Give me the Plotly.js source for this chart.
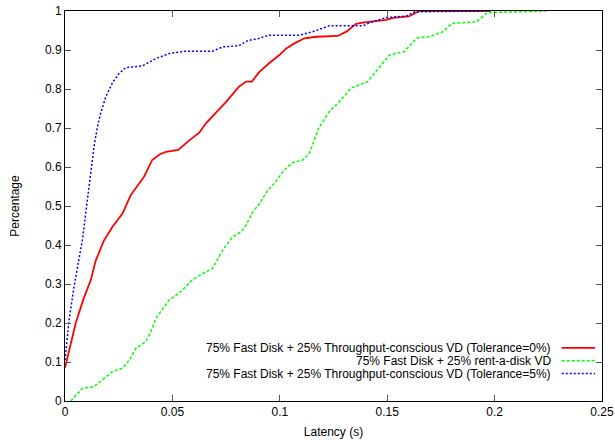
<!DOCTYPE html>
<html>
<head>
<meta charset="utf-8">
<script src="https://cdn.plot.ly/plotly-3.0.1.min.js"></script>
<style>html,body{margin:0;padding:0;background:#fff;}#chart{width:615px;height:440px;}</style>
</head>
<body>
<div id="chart"></div>
<script>
// Latency (s) and cumulative percentage for each configuration
const seriesNames = [
  "75% Fast Disk + 25% Throughput-conscious VD (Tolerance=0%)",
  "75% Fast Disk + 25% rent-a-disk VD",
  "75% Fast Disk + 25% Throughput-conscious VD (Tolerance=5%)"
];

const redX = [0, 0.0025, 0.005, 0.0085, 0.012, 0.0143, 0.018, 0.022, 0.0267, 0.0306, 0.0345, 0.0368, 0.0406, 0.044, 0.047, 0.0527, 0.058, 0.0625, 0.0656, 0.070, 0.075, 0.081, 0.0843, 0.087, 0.0905, 0.095, 0.0998, 0.103, 0.1068, 0.1115, 0.117, 0.127, 0.131, 0.1355, 0.1386, 0.1495, 0.1526, 0.160, 0.165, 0.198];
const redY = [0.085, 0.14, 0.2, 0.26, 0.31, 0.36, 0.41, 0.446, 0.48, 0.528, 0.558, 0.575, 0.618, 0.632, 0.639, 0.644, 0.669, 0.688, 0.712, 0.7375, 0.767, 0.806, 0.819, 0.819, 0.844, 0.866, 0.887, 0.904, 0.917, 0.930, 0.934, 0.936, 0.947, 0.967, 0.970, 0.977, 0.9825, 0.986, 1.0, 1.0];

const greenX = [0.0027, 0.0081, 0.0135, 0.0174, 0.022, 0.0267, 0.030, 0.033, 0.0376, 0.040, 0.0423, 0.0485, 0.053, 0.0563, 0.0594, 0.0687, 0.0734, 0.078, 0.082, 0.0843, 0.0874, 0.0905, 0.0944, 0.0975, 0.102, 0.106, 0.1107, 0.1138, 0.118, 0.123, 0.1286, 0.133, 0.141, 0.144, 0.1496, 0.151, 0.158, 0.1636, 0.170, 0.176, 0.180, 0.1915, 0.196, 0.1978, 0.224];
const greenY = [0, 0.0325, 0.037, 0.054, 0.075, 0.084, 0.105, 0.135, 0.152, 0.178, 0.212, 0.259, 0.276, 0.293, 0.312, 0.340, 0.387, 0.421, 0.434, 0.451, 0.485, 0.505, 0.541, 0.558, 0.592, 0.611, 0.618, 0.635, 0.699, 0.742, 0.772, 0.802, 0.819, 0.840, 0.878, 0.887, 0.896, 0.930, 0.935, 0.947, 0.968, 0.972, 0.993, 0.996, 1.0];

const blueX = [0, 0.0019, 0.0042, 0.0081, 0.0104, 0.012, 0.0135, 0.0151, 0.0166, 0.019, 0.022, 0.0252, 0.0283, 0.036, 0.040, 0.0423, 0.0485, 0.0563, 0.0687, 0.0734, 0.081, 0.085, 0.0905, 0.095, 0.109, 0.1153, 0.123, 0.1387, 0.1418, 0.1496, 0.159, 0.1628, 0.198];
const blueY = [0.105, 0.208, 0.293, 0.413, 0.515, 0.584, 0.652, 0.703, 0.738, 0.780, 0.815, 0.84, 0.855, 0.859, 0.870, 0.878, 0.891, 0.897, 0.897, 0.908, 0.911, 0.924, 0.930, 0.938, 0.938, 0.947, 0.962, 0.962, 0.970, 0.983, 0.987, 0.998, 1.0];

const xTicks = [0, 0.05, 0.1, 0.15, 0.2, 0.25];
const yTicks = [0, 0.1, 0.2, 0.3, 0.4, 0.5, 0.6, 0.7, 0.8, 0.9, 1];

const colors = ["#ff0000", "#00ff00", "#0000ff"];
const dashes = ["solid", "3px,2px", "2px,2px"];
const widths = [1.8, 1.5, 1.5];
const xs = [redX, greenX, blueX];
const ys = [redY, greenY, blueY];

const FONT = "Liberation Sans, Arial, Helvetica, sans-serif";

const traces = xs.map((x, i) => ({
  x: x, y: ys[i], type: "scatter", mode: "lines", name: seriesNames[i],
  line: {color: colors[i], dash: dashes[i], width: widths[i]},
  showlegend: false, cliponaxis: true
}));

// Legend in gnuplot style: text right-aligned, sample line on its right
const annotations = [];
const shapes = [];
const legTop = 0.136;
const rowStep = 0.0328;
seriesNames.forEach((n, i) => {
  const py = legTop - i * rowStep;
  annotations.push({
    xref: "paper", yref: "paper", x: 0.909, y: py, xanchor: "right", yanchor: "middle",
    text: n, showarrow: false, font: {family: FONT, size: 12, color: "#000"}
  });
  shapes.push({
    type: "line", xref: "paper", yref: "paper", x0: 0.925, x1: 0.987, y0: py, y1: py,
    line: {color: colors[i], dash: dashes[i], width: widths[i]}
  });
});

const axisCommon = {
  showgrid: false, zeroline: false, showline: true, mirror: "ticks",
  linecolor: "#000", linewidth: 1, ticks: "inside", ticklen: 6, tickwidth: 1,
  tickcolor: "#555", tickfont: {family: FONT, size: 12, color: "#000"}
};

const layout = {
  width: 615, height: 440,
  margin: {l: 65, r: 13, t: 11, b: 39},
  paper_bgcolor: "#fff", plot_bgcolor: "#fff",
  font: {family: FONT, size: 12, color: "#000"},
  xaxis: Object.assign({}, axisCommon, {
    range: [0, 0.25], tickvals: xTicks, ticktext: xTicks.map(String),
    title: {text: "Latency (s)", font: {family: FONT, size: 12}, standoff: 9}
  }),
  yaxis: Object.assign({}, axisCommon, {
    range: [0, 1], tickvals: yTicks, ticktext: yTicks.map(String),
    title: {text: "Percentage", font: {family: FONT, size: 12}, standoff: 22}
  }),
  annotations: annotations,
  shapes: shapes,
  showlegend: false
};

Plotly.newPlot("chart", traces, layout, {staticPlot: true, displayModeBar: false});
</script>
</body>
</html>
